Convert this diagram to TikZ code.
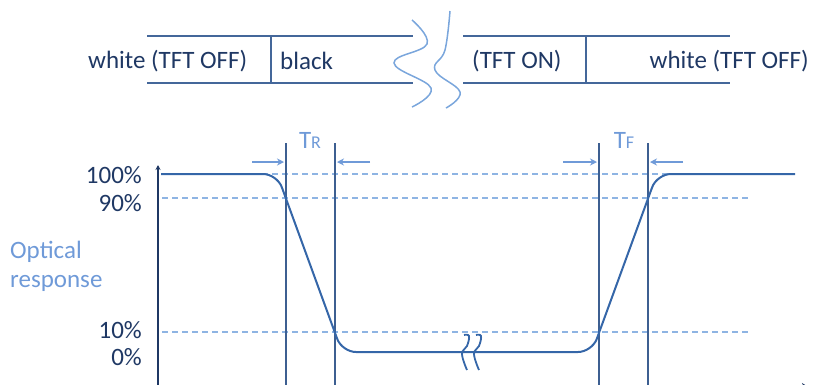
\documentclass[tikz,border=0pt]{standalone}
\usepackage{fontspec}
\setmainfont{Carlito}
\usetikzlibrary{arrows.meta}
\definecolor{navy}{HTML}{1F3864}
\definecolor{barline}{HTML}{44679A}
\definecolor{curvec}{HTML}{3566A8}
\definecolor{vline}{HTML}{3D5F91}
\definecolor{dashc}{HTML}{8EB4E3}
\definecolor{lightt}{HTML}{6F9AD8}
\definecolor{wavec}{HTML}{7AA6DC}
\tikzset{
  bigtxt/.style={font=\fontsize{25}{25}\selectfont, text=navy, inner sep=0pt},
  lighttxt/.style={font=\fontsize{25}{25}\selectfont, text=lightt, inner sep=0pt},
  barln/.style={draw=barline, line width=2pt},
  vln/.style={draw=vline, line width=2pt},
  dashln/.style={draw=dashc, line width=1.5pt, dash pattern=on 6pt off 4pt},
  curveln/.style={draw=curvec, line width=2pt, rounded corners=14pt},
  wave/.style={draw=wavec, line width=1.5pt},
  brk/.style={draw=curvec, line width=1.8pt},
  tarrow/.style={draw=lightt, line width=1.5pt, -{Stealth[length=7pt,width=7pt]}},
}
\begin{document}
\begin{tikzpicture}[x=1pt,y=-1pt]
\useasboundingbox (0,0) rectangle (815,384);
\clip (0,0) rectangle (815,384);
% top bar
\coordinate (l1a) at (147,36); \coordinate (l1b) at (413,36);
\coordinate (l2a) at (147,83); \coordinate (l2b) at (413,83);
\coordinate (r1a) at (463,36); \coordinate (r1b) at (730,36);
\coordinate (r2a) at (463,83); \coordinate (r2b) at (730,83);
\draw[barln] (l1a) -- (l1b);
\draw[barln] (l2a) -- (l2b);
\draw[barln] (r1a) -- (r1b);
\draw[barln] (r2a) -- (r2b);
\coordinate (d1t) at (271,36); \coordinate (d1b) at (271,83);
\coordinate (d2t) at (586,36); \coordinate (d2b) at (586,83);
\draw[barln] (d1t) -- (d1b);
\draw[barln] (d2t) -- (d2b);
\node[bigtxt, anchor=west] (w1) at (88,61) {white (TFT OFF)};
\node[bigtxt, anchor=west] (blk) at (280,61) {black};
\node[bigtxt, anchor=west] (on) at (472,61) {(TFT ON)};
\node[bigtxt, anchor=east] (w2) at (809,61) {white (TFT OFF)};
% wavy break lines
\draw[wave] plot[smooth, tension=0.7] coordinates {(412,20) (427,44) (394,63) (431,88) (412,107)};
\draw[wave] plot[smooth, tension=0.7] coordinates {(450,11) (445,50) (435,70) (460,92) (446,108)};
% graph
\coordinate (ybot) at (158,390); \coordinate (ytop) at (158,165);
\draw[draw=navy, line width=1.5pt, -{Stealth[length=5pt,width=5pt]}] (ybot) -- (ytop);
\coordinate (xs) at (700,388); \coordinate (xe) at (810,388);
\draw[draw=navy, line width=1.5pt, -{Stealth[length=8pt,width=10pt]}] (xs) -- (xe);
% dashed levels
\foreach \yy/\nm in {174/a,198/b,332/c}{
  \coordinate (ds\nm) at (162,\yy); \coordinate (de\nm) at (748,\yy);
  \draw[dashln] (ds\nm) -- (de\nm);
}
% vertical lines
\foreach \xx/\nm in {286/v1,335/v2,599/v3,648/v4}{
  \coordinate (\nm t) at (\xx,143); \coordinate (\nm b) at (\xx,390);
  \draw[vln] (\nm t) -- (\nm b);
}
% response curve
\coordinate (c0) at (161,174); \coordinate (c1) at (277,174);
\coordinate (c2) at (342,352); \coordinate (c3) at (592,352);
\coordinate (c4) at (657,174); \coordinate (c5) at (795,174);
\draw[curveln] (c0) -- (c1) -- (c2) -- (c3) -- (c4) -- (c5);
% break marks on curve
\draw[brk] plot[smooth, tension=0.7] coordinates {(464,335) (469,336) (467,346) (462,354) (467,370)};
\draw[brk] plot[smooth, tension=0.7] coordinates {(476,335) (481,336) (479,346) (474,354) (479,370)};
% timing arrows
\coordinate (a1s) at (252,162); \coordinate (a1e) at (284,162);
\coordinate (a2s) at (370,162); \coordinate (a2e) at (337,162);
\coordinate (a3s) at (563,162); \coordinate (a3e) at (597,162);
\coordinate (a4s) at (683,162); \coordinate (a4e) at (650,162);
\draw[tarrow] (a1s) -- (a1e);
\draw[tarrow] (a2s) -- (a2e);
\draw[tarrow] (a3s) -- (a3e);
\draw[tarrow] (a4s) -- (a4e);
\node[text=lightt, inner sep=0pt, anchor=base] (tr) at (310,148) {\fontsize{25}{25}\selectfont T\fontsize{18}{18}\selectfont R};
\node[text=lightt, inner sep=0pt, anchor=base] (tf) at (624,148) {\fontsize{25}{25}\selectfont T\fontsize{18}{18}\selectfont F};
% axis labels
\node[bigtxt, anchor=east] (p100) at (142,175) {100\%};
\node[bigtxt, anchor=east] (p90) at (142,203) {90\%};
\node[bigtxt, anchor=east] (p10) at (142,330) {10\%};
\node[bigtxt, anchor=east] (p0) at (142,357) {0\%};
\node[lighttxt, anchor=west] (opt) at (10,252) {Optical};
\node[lighttxt, anchor=west] (resp) at (10,283) {response};
\end{tikzpicture}
\end{document}
